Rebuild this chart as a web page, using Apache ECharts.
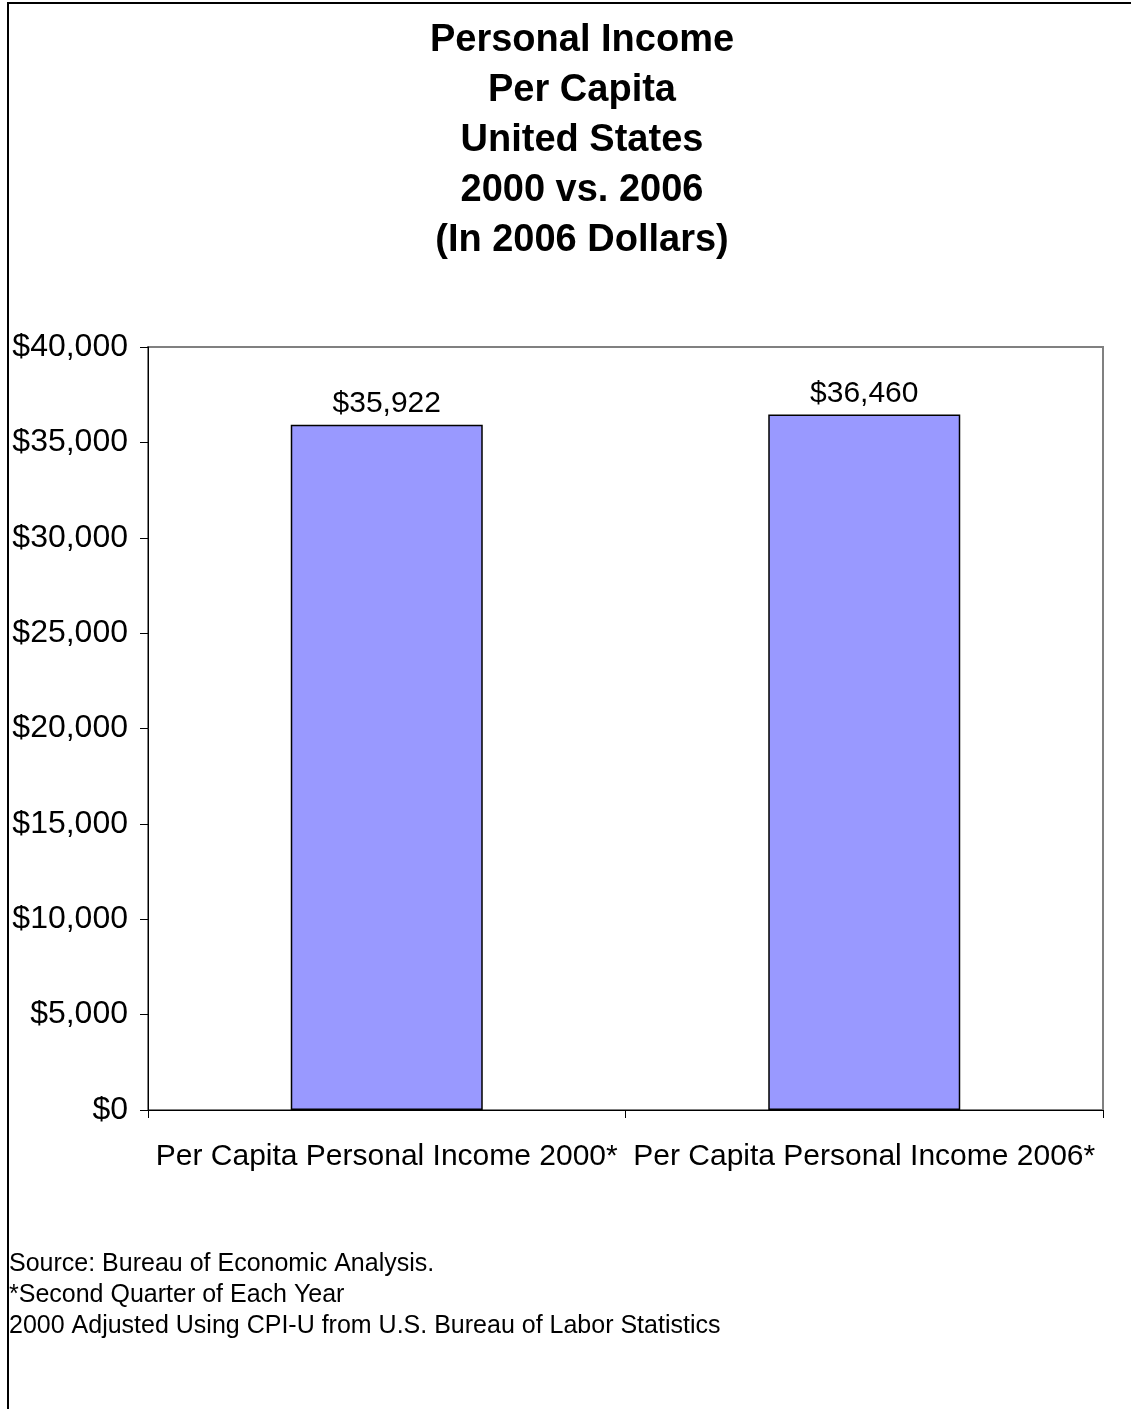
<!DOCTYPE html>
<html>
<head>
<meta charset="utf-8">
<script src="https://cdn.jsdelivr.net/npm/echarts@6/dist/echarts.min.js"></script>
<style>
  html, body { margin: 0; padding: 0; background: #fff; }
  #chart { width: 1131px; height: 1409px; }
</style>
</head>
<body>
<div id="chart"></div>
<script>
// Per capita personal income, United States (2006 dollars)
const categories = [
  'Per Capita Personal Income 2000*',
  'Per Capita Personal Income 2006*'
];
const incomeValues = [35922, 36460];
const titleLines = [
  'Personal Income',
  'Per Capita',
  'United States',
  '2000 vs. 2006',
  '(In 2006 Dollars)'
];
const footnotes = [
  'Source: Bureau of Economic Analysis.',
  '*Second Quarter of Each Year',
  '2000 Adjusted Using CPI-U from U.S. Bureau of Labor Statistics'
];

const FONT = 'Liberation Sans, Arial, Helvetica, sans-serif';
const money = v => '$' + v.toLocaleString('en-US');

const chart = echarts.init(document.getElementById('chart'), null, { renderer: 'canvas' });

chart.setOption({
  backgroundColor: '#ffffff',
  animation: false,
  title: {
    text: titleLines.join('\n'),
    left: 577,
    top: 11,
    textAlign: 'center',
    textStyle: {
      fontFamily: FONT,
      fontSize: 38,
      fontWeight: 'bold',
      color: '#000',
      lineHeight: 50
    }
  },
  graphic: [
    {
      type: 'rect',
      shape: { x: 8, y: 3, width: 1200, height: 1500 },
      style: { fill: 'none', stroke: '#000', lineWidth: 2 },
      silent: true,
      z: 100
    },
    {
      type: 'text',
      left: 9,
      top: 1249,
      style: {
        text: footnotes.join('\n'),
        fontFamily: FONT,
        fontSize: 25,
        lineHeight: 31,
        fill: '#000'
      }
    }
  ],
  grid: {
    left: 148,
    top: 347,
    width: 955,
    height: 763,
    show: true,
    borderColor: '#808080',
    borderWidth: 2,
    backgroundColor: 'transparent'
  },
  xAxis: {
    type: 'category',
    data: categories,
    boundaryGap: true,
    axisLine: { show: true, lineStyle: { color: '#000', width: 1 } },
    axisTick: { show: true, alignWithLabel: false, length: 8, lineStyle: { color: '#000' } },
    axisLabel: {
      interval: 0,
      margin: 32,
      fontFamily: FONT,
      fontSize: 30,
      color: '#000'
    },
    splitLine: { show: false }
  },
  yAxis: {
    type: 'value',
    min: 0,
    max: 40000,
    interval: 5000,
    axisLine: { show: true, lineStyle: { color: '#000', width: 1 } },
    axisTick: { show: true, length: 8, lineStyle: { color: '#000' } },
    axisLabel: {
      margin: 20,
      fontFamily: FONT,
      fontSize: 32,
      color: '#000',
      formatter: v => money(v)
    },
    splitLine: { show: false }
  },
  series: [
    {
      type: 'bar',
      data: incomeValues,
      barWidth: 192,
      itemStyle: { color: '#9999FF', borderColor: '#000', borderWidth: 1.5 },
      label: {
        show: true,
        position: 'top',
        distance: 6,
        fontFamily: FONT,
        fontSize: 30,
        color: '#000',
        formatter: p => money(p.value)
      }
    }
  ]
});
</script>
</body>
</html>
